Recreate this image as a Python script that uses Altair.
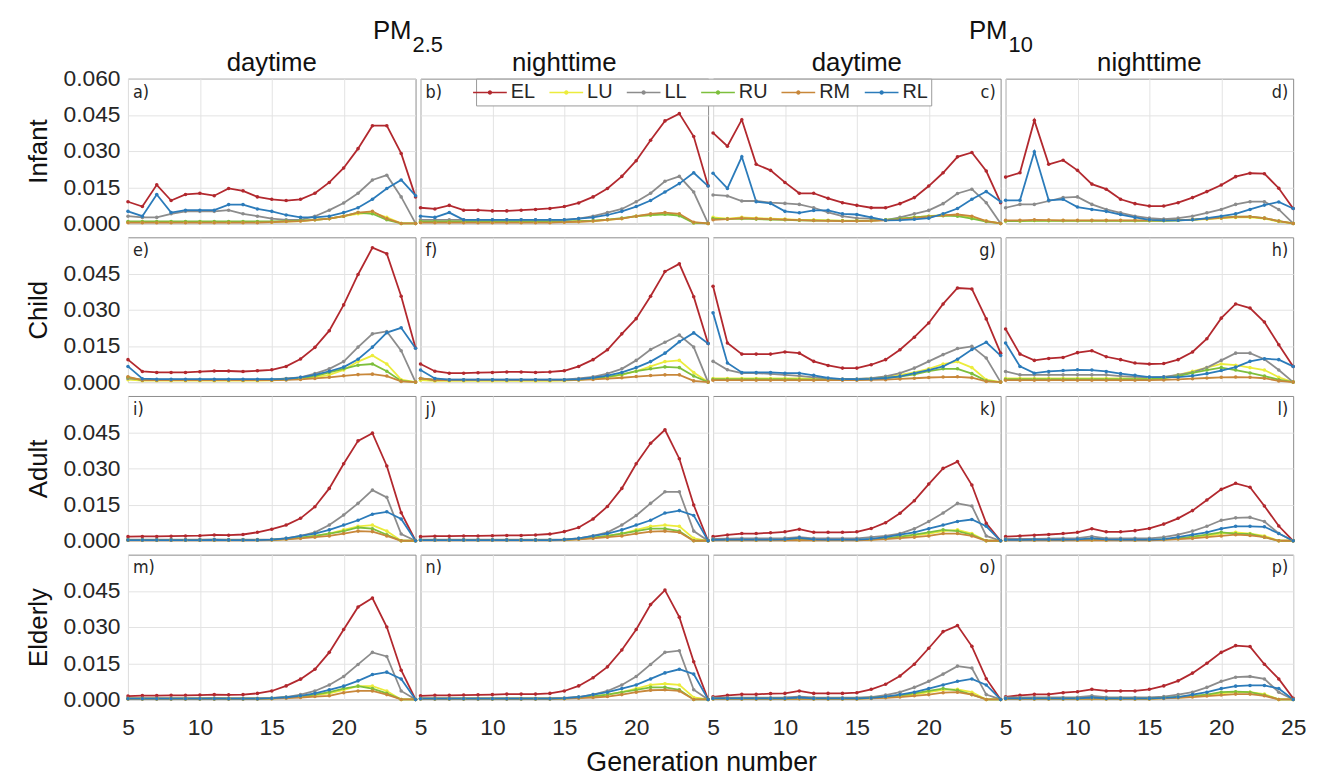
import altair as alt
import pandas as pd

# ---------------- data (values in units of 1e-3) ----------------
GEN = [5, 6, 7, 8, 9, 10, 11, 12, 13, 14, 15, 16, 17, 18, 19, 20, 21, 22, 23, 24, 25]
SERIES = ["EL", "LU", "LL", "RU", "RM", "RL"]
COLORS = ["#b2282e", "#ecec3c", "#8c8c8c", "#7dbf3c", "#c8873a", "#2b7bba"]
ROWS = ["Infant", "Child", "Adult", "Elderly"]
COLS = ["daytime", "nighttime", "daytime", "nighttime"]
LETTERS = ["a)", "b)", "c)", "d)", "e)", "f)", "g)", "h)", "i)", "j)", "k)", "l)", "m)", "n)", "o)", "p)"]
Y_TICKS_TOP = [0, 0.015, 0.030, 0.045, 0.060]
Y_TICKS = [0, 0.015, 0.030, 0.045]
X_TICKS = [5, 10, 15, 20]
X_TICKS_LAST = [5, 10, 15, 20, 25]

A_EL = [9, 7, 16, 9.5, 12, 12.5, 11.5, 14.5, 13.5, 11, 10, 9.5, 10, 12.5, 17, 23, 31, 40.5, 40.5, 29, 11]
A_LU = [0.5, 0.5, 0.5, 0.5, 0.5, 0.5, 0.5, 0.5, 0.5, 0.5, 0.5, 0.8, 1, 1.5, 2, 3, 4, 4.5, 2.5, 0, 0]
A_LL = [3, 2.5, 2.5, 4, 5, 5, 5, 5.5, 4, 3, 2, 1.5, 1.5, 3, 5.5, 8.5, 12.5, 18, 20, 11, 0]
A_RU = [0.8, 0.8, 0.8, 0.8, 0.8, 0.8, 0.8, 0.8, 0.8, 0.8, 0.8, 1, 1.2, 1.5, 2, 3, 4.5, 4, 1.5, 0, 0]
A_RM = [0.3, 0.3, 0.3, 0.3, 0.3, 0.3, 0.3, 0.3, 0.3, 0.3, 0.5, 0.8, 1, 1.5, 2, 3, 4.5, 5, 2, 0, 0]
A_RL = [5, 3, 12, 4.5, 5.5, 5.5, 5.5, 7.8, 7.8, 6, 5, 3.5, 2.5, 2.5, 3, 4.5, 6.5, 10, 14.5, 18, 11.5]

B_EL = [6.5, 6, 7.5, 5.5, 5.5, 5.2, 5.2, 5.5, 5.8, 6.2, 7, 8.5, 11, 14.5, 19.5, 26, 34.5, 42.5, 45.5, 36, 15.6]
B_LU = [0.5, 0.5, 0.5, 0.5, 0.5, 0.5, 0.5, 0.5, 0.5, 0.5, 0.6, 0.8, 1, 1.5, 2, 3, 3.5, 4, 3.5, 0.3, 0]
B_LL = [1.5, 1.5, 1.5, 1.5, 1.5, 1.5, 1.5, 1.5, 1.5, 1.5, 1.5, 2, 3, 4.5, 6, 9, 12.5, 17.5, 19.5, 13, 0]
B_RU = [0.8, 0.8, 0.8, 0.8, 0.8, 0.8, 0.8, 0.8, 0.8, 0.8, 0.8, 1, 1.2, 1.6, 2.2, 3, 3.5, 3.8, 3.2, 0.2, 0]
B_RM = [0.3, 0.3, 0.3, 0.3, 0.3, 0.3, 0.3, 0.3, 0.3, 0.3, 0.5, 0.7, 1, 1.5, 2, 3, 4, 4.5, 4, 0.5, 0]
B_RL = [3, 2.5, 4.5, 1.5, 1.5, 1.5, 1.5, 1.5, 1.5, 1.5, 1.5, 2, 2.5, 3.5, 5, 7, 9.5, 13, 16.5, 21, 15.5]

C_EL = [37.5, 32, 43, 24.5, 22, 17, 12.5, 12.5, 10.4, 8.6, 7.5, 6.5, 6.5, 8.2, 10.7, 15.5, 21, 27.6, 29.4, 21.7, 8.6]
C_LU = [2.5, 2, 2.5, 2.2, 2, 1.8, 1.5, 1.5, 1.3, 1.2, 1.2, 1.2, 1.5, 2, 2.5, 3, 3.5, 3.5, 2.5, 1, 0]
C_LL = [11.8, 11.4, 9.3, 9.3, 8.6, 8.3, 7.9, 6.5, 4.6, 3, 2.2, 2, 1.4, 2.5, 4, 5.4, 8.2, 12.4, 14.2, 8.6, 0]
C_RU = [2, 1.8, 2, 1.8, 1.6, 1.5, 1.3, 1.2, 1.2, 1.1, 1.1, 1.2, 1.5, 2, 2.5, 3, 3.2, 3, 2, 0.8, 0]
C_RM = [1.5, 1.8, 2.2, 2, 1.8, 1.6, 1.4, 1.2, 1.1, 1, 1, 1.1, 1.3, 1.7, 2.2, 2.8, 3.3, 3.7, 3, 1, 0]
C_RL = [20.8, 14.5, 27.6, 9, 8.3, 5, 4.4, 5.4, 5.4, 4, 3.7, 2.5, 1.3, 1.4, 1.7, 2.2, 4, 6.2, 10, 13.2, 9]

D_EL = [19.2, 21, 42.7, 24.5, 26.2, 22, 16.3, 14.2, 10, 8.2, 7.2, 7.2, 8.6, 10.7, 13.2, 15.9, 19.4, 20.8, 20.6, 14.6, 6.2]
D_LU = [1, 1, 1.2, 1.2, 1.2, 1.2, 1.2, 1.2, 1.2, 1.2, 1.2, 1.2, 1.3, 1.5, 1.8, 2.2, 2.5, 2.5, 2, 0.8, 0]
D_LL = [6.5, 7.9, 7.9, 9.3, 10.7, 11, 7.9, 5.8, 4.4, 3, 2.2, 1.8, 2.2, 3, 4.4, 5.8, 7.9, 9, 9, 5.8, 0]
D_RU = [1, 1, 1.2, 1.1, 1.1, 1.1, 1.1, 1.1, 1.1, 1.1, 1.1, 1.1, 1.3, 1.6, 2, 2.4, 2.8, 2.8, 2.2, 1, 0]
D_RM = [1.3, 1.3, 1.5, 1.4, 1.3, 1.3, 1.3, 1.3, 1.3, 1.3, 1.3, 1.3, 1.4, 1.6, 1.9, 2.3, 2.7, 2.8, 2.2, 1, 0]
D_RL = [9.6, 9.6, 29.7, 9.6, 10, 6.8, 5.8, 5, 3.7, 2.5, 1.5, 1.3, 1.3, 1.5, 2.2, 3, 4, 5.8, 7.6, 8.9, 6.2]

E_EL = [9.3, 4.4, 4, 4, 4, 4.3, 4.6, 4.6, 4.4, 4.7, 5.1, 6.5, 9.6, 14.4, 21.3, 32, 44.6, 55.7, 53.2, 35.6, 14.1]
E_LU = [1, 0.6, 0.6, 0.6, 0.6, 0.6, 0.6, 0.6, 0.6, 0.6, 0.7, 1, 1.5, 2, 3, 5, 8.5, 11, 7.5, 1, 0]
E_LL = [1.5, 1, 1, 1, 1, 1, 1, 1, 1, 1, 1, 1.5, 2, 3.5, 5.5, 8.5, 14.5, 20, 21, 13, 0]
E_RU = [2, 0.8, 0.8, 0.8, 0.8, 0.8, 0.8, 0.8, 0.8, 0.8, 0.9, 1.2, 1.7, 2.5, 4, 5.5, 7, 7.5, 4.5, 0.5, 0]
E_RM = [2.2, 0.8, 0.8, 0.8, 0.8, 0.8, 0.8, 0.8, 0.8, 0.8, 0.8, 0.9, 1.1, 1.5, 2, 2.6, 3.1, 3.3, 2.5, 0.3, 0]
E_RL = [6.5, 1.4, 1.2, 1.2, 1.2, 1.2, 1.2, 1.2, 1.2, 1.2, 1.2, 1.3, 2, 3, 4.5, 6.2, 9.5, 14.5, 20.5, 22.5, 14]

F_EL = [7.5, 4.5, 3.7, 3.7, 3.9, 4, 4.2, 4.2, 4, 4.2, 4.7, 6.5, 9.3, 13.4, 20, 26.3, 35.6, 45.8, 49, 35.4, 16]
F_LU = [0.8, 0.5, 0.5, 0.5, 0.5, 0.5, 0.5, 0.5, 0.5, 0.5, 0.6, 0.9, 1.4, 2, 3, 4.5, 6.5, 8.5, 9, 4, 0]
F_LL = [1.5, 1, 1, 1, 1, 1, 1, 1, 1, 1, 1, 1.5, 2.2, 3.5, 5.5, 9, 13.5, 16.5, 19.5, 14.5, 0]
F_RU = [1.5, 0.8, 0.8, 0.8, 0.8, 0.8, 0.8, 0.8, 0.8, 0.8, 0.8, 1, 1.5, 2.2, 3.2, 4.5, 5.5, 6.3, 6, 2.5, 0]
F_RM = [1.5, 0.8, 0.8, 0.8, 0.8, 0.8, 0.8, 0.8, 0.8, 0.8, 0.8, 0.9, 1.1, 1.4, 1.8, 2.3, 2.7, 3, 3, 0.5, 0]
F_RL = [5, 1.5, 1, 1, 1, 1, 1, 1, 1, 1, 1, 1.2, 1.8, 2.7, 4, 6, 8.5, 12, 16.7, 20.4, 16]

G_EL = [39.7, 16.2, 11.6, 11.6, 11.6, 12.5, 12, 8.6, 6.9, 5.8, 5.8, 7.2, 9.3, 13.4, 18.6, 24.5, 32.4, 39, 38.6, 26.2, 12]
G_LU = [1.5, 1.5, 1.5, 1.5, 1.5, 1.5, 1.5, 1.4, 1.3, 1.2, 1.2, 1.5, 2.2, 3, 4, 5.5, 7.5, 8.5, 6, 1, 0]
G_LL = [8.6, 5.1, 3.7, 3.7, 3.4, 3, 2.6, 2, 1.4, 1.3, 1.3, 1.6, 2.4, 3.7, 5.8, 8.6, 11.4, 13.9, 14.8, 10, 0]
G_RU = [1.2, 1.2, 1.2, 1.2, 1.2, 1.2, 1.1, 1, 1, 1, 1, 1.2, 1.7, 2.3, 3.2, 4.5, 5.5, 5.5, 3.5, 0.5, 0]
G_RM = [0.8, 0.8, 0.8, 0.8, 0.8, 0.8, 0.8, 0.8, 0.8, 0.8, 0.8, 0.9, 1, 1.3, 1.6, 1.9, 2.1, 2.2, 1.8, 0.3, 0]
G_RL = [28.7, 7.9, 4, 4, 4, 3.7, 3.7, 2.8, 1.7, 1.2, 1.2, 1.3, 1.7, 2.4, 3.7, 5, 6.5, 9.5, 13.5, 16.5, 11]

H_EL = [22, 11.6, 9, 9.8, 10.2, 12.2, 13, 10.5, 9.3, 7.9, 7.5, 7.7, 9.3, 12.5, 18, 26.5, 32.4, 30.7, 24.9, 15.5, 6.5]
H_LU = [1.5, 1.5, 1.5, 1.5, 1.5, 1.5, 1.5, 1.5, 1.5, 1.5, 1.5, 2, 3, 4.5, 6, 7.5, 7, 6, 5, 2, 0]
H_LL = [4.4, 3, 3, 3, 3, 3, 3, 3, 2.5, 2.2, 2, 2.2, 3, 4, 6, 9, 12, 12, 9.5, 5, 0]
H_RU = [1.2, 1.2, 1.2, 1.2, 1.2, 1.2, 1.2, 1.2, 1.2, 1.2, 1.2, 1.6, 2.5, 3.8, 5, 6, 5, 3.8, 2.5, 1, 0]
H_RM = [0.8, 0.8, 0.8, 0.8, 0.8, 0.8, 0.8, 0.8, 0.8, 0.8, 0.8, 0.9, 1.1, 1.4, 1.7, 2, 2.1, 2, 1.6, 0.5, 0]
H_RL = [16.2, 6.5, 3.7, 4.4, 4.8, 5.1, 5, 4.4, 3.5, 2.8, 2.1, 2.1, 2.1, 2.6, 3.5, 4.8, 6.2, 8.6, 9.7, 9.3, 6.5]

I_EL = [1.7, 1.8, 1.8, 1.9, 2, 2.1, 2.4, 2.3, 2.6, 3.5, 4.8, 6.5, 9.3, 14.1, 21.7, 31.9, 41.4, 44.6, 31, 11.6, 0]
I_LU = [0.3, 0.3, 0.3, 0.3, 0.3, 0.3, 0.3, 0.3, 0.3, 0.3, 0.4, 0.7, 1.2, 2, 3, 4.5, 6, 6.5, 4, 0, 0]
I_LL = [0.5, 0.5, 0.5, 0.5, 0.5, 0.5, 0.6, 0.5, 0.5, 0.5, 0.6, 1, 2, 3.5, 6.5, 10.7, 15.5, 21, 18, 2.8, 0]
I_RU = [0.3, 0.3, 0.3, 0.3, 0.3, 0.3, 0.3, 0.3, 0.3, 0.3, 0.4, 0.8, 1.3, 2, 3, 4, 5.5, 5, 2.5, 0, 0]
I_RM = [0.2, 0.2, 0.2, 0.2, 0.2, 0.2, 0.2, 0.2, 0.2, 0.2, 0.3, 0.6, 1, 1.5, 2, 3, 4, 3.8, 2, 0, 0]
I_RL = [0.3, 0.3, 0.3, 0.3, 0.3, 0.3, 0.4, 0.3, 0.3, 0.3, 0.5, 1, 2, 3, 4.5, 6.5, 8.5, 11, 12, 9, 0]

J_EL = [1.7, 1.9, 1.9, 2, 2, 2.1, 2.2, 2.2, 2.4, 2.8, 3.8, 5.5, 9, 14.2, 21.7, 31.9, 40.4, 46, 34, 14.8, 0]
J_LU = [0.3, 0.3, 0.3, 0.3, 0.3, 0.3, 0.3, 0.3, 0.3, 0.3, 0.4, 0.7, 1.2, 2, 3, 4.5, 6, 6.5, 6, 1, 0]
J_LL = [0.5, 0.5, 0.5, 0.5, 0.5, 0.5, 0.5, 0.5, 0.5, 0.5, 0.6, 1, 2, 3.5, 6.5, 10.5, 15.5, 20.3, 20.3, 4, 0]
J_RU = [0.3, 0.3, 0.3, 0.3, 0.3, 0.3, 0.3, 0.3, 0.3, 0.3, 0.4, 0.8, 1.3, 2, 3, 4, 5, 5, 4, 0, 0]
J_RM = [0.2, 0.2, 0.2, 0.2, 0.2, 0.2, 0.2, 0.2, 0.2, 0.2, 0.3, 0.6, 1, 1.5, 2, 3, 3.8, 4, 3.5, 0, 0]
J_RL = [0.3, 0.3, 0.3, 0.3, 0.3, 0.3, 0.3, 0.3, 0.3, 0.3, 0.5, 1, 2, 3, 4.5, 6.5, 8.5, 11.5, 12.5, 10.5, 0]

K_EL = [1.7, 2.4, 3, 3, 3.3, 3.7, 4.8, 3.5, 3.5, 3.5, 3.7, 5.1, 7.5, 11.4, 16.6, 23.5, 30, 32.8, 23.1, 7.2, 0]
K_LU = [0.3, 0.3, 0.3, 0.3, 0.3, 0.3, 0.4, 0.3, 0.3, 0.3, 0.3, 0.5, 0.9, 1.5, 2.2, 3, 4, 4.5, 3, 0, 0]
K_LL = [0.8, 0.9, 1, 1, 1, 1.1, 1.5, 1, 1, 1, 1, 1.5, 2, 3, 5, 8, 11.5, 15.5, 14.4, 2, 0]
K_RU = [0.3, 0.3, 0.3, 0.3, 0.3, 0.3, 0.4, 0.3, 0.3, 0.3, 0.3, 0.6, 1, 1.7, 2.5, 3.5, 4.5, 4, 2.5, 0, 0]
K_RM = [0.2, 0.2, 0.2, 0.2, 0.2, 0.2, 0.3, 0.2, 0.2, 0.2, 0.2, 0.4, 0.7, 1.1, 1.5, 2, 3, 3, 2, 0, 0]
K_RL = [0.4, 0.5, 0.5, 0.5, 0.5, 0.6, 1.2, 0.6, 0.5, 0.5, 0.5, 0.8, 1.5, 2.5, 3.5, 5, 6.5, 8, 8.8, 6, 0]

L_EL = [1.7, 2, 2.3, 2.6, 3, 3.5, 5, 3.7, 3.7, 4.2, 5.1, 6.9, 9.3, 12.5, 16.9, 21.3, 23.8, 22.2, 14.4, 6.1, 0]
L_LU = [0.3, 0.3, 0.3, 0.3, 0.3, 0.3, 0.4, 0.3, 0.3, 0.3, 0.3, 0.5, 0.8, 1.3, 2, 3, 3.5, 3, 2, 0, 0]
L_LL = [0.8, 0.8, 0.8, 0.9, 1, 1.1, 1.8, 1, 1, 1, 1, 1.5, 2.5, 4, 6, 8.5, 9.5, 9.7, 8, 3, 0]
L_RU = [0.3, 0.3, 0.3, 0.3, 0.3, 0.3, 0.4, 0.3, 0.3, 0.3, 0.3, 0.6, 1, 1.7, 2.5, 3.5, 3, 2.8, 1.5, 0, 0]
L_RM = [0.2, 0.2, 0.2, 0.2, 0.2, 0.2, 0.3, 0.2, 0.2, 0.2, 0.2, 0.4, 0.7, 1, 1.5, 2, 2.5, 2.2, 1.5, 0, 0]
L_RL = [0.4, 0.4, 0.5, 0.5, 0.5, 0.6, 1, 0.6, 0.5, 0.5, 0.5, 0.7, 1.5, 2.5, 3.5, 5, 6, 6, 5.8, 3, 0]

M_EL = [1.4, 1.6, 1.6, 1.7, 1.7, 1.8, 2, 1.9, 2, 2.5, 3.5, 5.6, 8.4, 12.5, 19.5, 29, 38.3, 42, 30, 12.1, 0]
M_LU = [0.3, 0.3, 0.3, 0.3, 0.3, 0.3, 0.3, 0.3, 0.3, 0.3, 0.4, 0.7, 1.2, 1.8, 2.5, 4, 5.5, 5.5, 3.5, 0, 0]
M_LL = [0.5, 0.5, 0.5, 0.5, 0.5, 0.5, 0.6, 0.5, 0.5, 0.5, 0.6, 1, 2, 3.5, 6, 9.5, 14.5, 19.5, 17.8, 3.5, 0]
M_RU = [0.3, 0.3, 0.3, 0.3, 0.3, 0.3, 0.3, 0.3, 0.3, 0.3, 0.4, 0.8, 1.3, 2, 3, 4.5, 5.5, 4.5, 2.5, 0, 0]
M_RM = [0.2, 0.2, 0.2, 0.2, 0.2, 0.2, 0.2, 0.2, 0.2, 0.2, 0.3, 0.5, 0.8, 1.2, 1.5, 2.8, 3.5, 3.5, 2, 0, 0]
M_RL = [0.3, 0.3, 0.3, 0.3, 0.3, 0.3, 0.3, 0.3, 0.3, 0.3, 0.5, 0.9, 1.5, 2.5, 4, 5.5, 7.7, 10.3, 11.3, 8.5, 0]

N_EL = [1.5, 1.7, 1.7, 1.8, 1.9, 2, 2.2, 2.2, 2.2, 2.5, 3.5, 5.6, 9, 13.5, 20.5, 29, 39.3, 45.3, 34.1, 15.6, 0]
N_LU = [0.3, 0.3, 0.3, 0.3, 0.3, 0.3, 0.3, 0.3, 0.3, 0.3, 0.4, 0.7, 1.2, 2, 3, 4.5, 6, 6.5, 6, 0.8, 0]
N_LL = [0.5, 0.5, 0.5, 0.5, 0.5, 0.5, 0.5, 0.5, 0.5, 0.5, 0.6, 1, 2, 3.5, 6, 9.5, 14.5, 19.5, 20.2, 4, 0]
N_RU = [0.3, 0.3, 0.3, 0.3, 0.3, 0.3, 0.3, 0.3, 0.3, 0.3, 0.4, 0.8, 1.3, 2, 3, 4, 5, 5, 4, 0, 0]
N_RM = [0.2, 0.2, 0.2, 0.2, 0.2, 0.2, 0.2, 0.2, 0.2, 0.2, 0.3, 0.5, 0.8, 1.2, 2, 3, 3.8, 4, 3.5, 0, 0]
N_RL = [0.3, 0.3, 0.3, 0.3, 0.3, 0.3, 0.3, 0.3, 0.3, 0.3, 0.5, 1, 2, 3, 4.5, 6, 8.5, 11, 12.5, 10.5, 0]

O_EL = [1.1, 1.7, 2.1, 2.1, 2.4, 2.5, 3.5, 2.5, 2.5, 2.5, 2.8, 4.2, 6.3, 9.7, 14.6, 21.2, 28.1, 30.6, 22, 8.6, 0]
O_LU = [0.3, 0.3, 0.3, 0.3, 0.3, 0.3, 0.4, 0.3, 0.3, 0.3, 0.3, 0.5, 0.8, 1.3, 2, 3, 4, 4.2, 3, 0, 0]
O_LL = [0.7, 0.7, 0.7, 0.7, 0.7, 0.8, 1.2, 0.8, 0.7, 0.7, 0.7, 1, 1.8, 3, 5, 7.5, 10.5, 13.8, 13, 2, 0]
O_RU = [0.3, 0.3, 0.3, 0.3, 0.3, 0.3, 0.4, 0.3, 0.3, 0.3, 0.3, 0.6, 1, 1.7, 2.5, 3.5, 4.5, 3.8, 2, 0, 0]
O_RM = [0.2, 0.2, 0.2, 0.2, 0.2, 0.2, 0.3, 0.2, 0.2, 0.2, 0.2, 0.4, 0.7, 1, 1.5, 2, 2.8, 3, 2, 0, 0]
O_RL = [0.4, 0.4, 0.4, 0.4, 0.4, 0.4, 0.8, 0.4, 0.4, 0.4, 0.4, 0.6, 1.2, 2, 3, 4.5, 6, 7.5, 8.5, 6, 0]

P_EL = [1.1, 1.7, 2.1, 2.1, 2.8, 3.2, 4.2, 3.5, 3.5, 3.5, 4.2, 5.6, 7.7, 10.9, 15, 19.5, 22.3, 21.9, 14.6, 8.5, 0.5]
P_LU = [0.3, 0.3, 0.3, 0.3, 0.3, 0.3, 0.4, 0.3, 0.3, 0.3, 0.3, 0.5, 0.8, 1.2, 1.8, 2.5, 3, 3, 2.2, 0, 0]
P_LL = [0.8, 0.8, 0.8, 0.8, 0.8, 0.9, 1.5, 0.9, 0.8, 0.8, 0.8, 1.2, 2, 3, 5, 7.5, 9.2, 9.5, 8.5, 3, 0]
P_RU = [0.3, 0.3, 0.3, 0.3, 0.3, 0.3, 0.4, 0.3, 0.3, 0.3, 0.3, 0.6, 1, 1.5, 2, 3, 3.2, 3, 1.8, 0, 0]
P_RM = [0.2, 0.2, 0.2, 0.2, 0.2, 0.2, 0.3, 0.2, 0.2, 0.2, 0.2, 0.4, 0.7, 1, 1.4, 1.8, 2.2, 2.2, 1.5, 0, 0]
P_RL = [0.4, 0.4, 0.4, 0.4, 0.4, 0.4, 0.8, 0.4, 0.4, 0.4, 0.4, 0.6, 1, 2, 3, 4.5, 5.5, 5.8, 5.8, 4.5, 0]

PANEL_VALUES = [
    [A_EL, A_LU, A_LL, A_RU, A_RM, A_RL],
    [B_EL, B_LU, B_LL, B_RU, B_RM, B_RL],
    [C_EL, C_LU, C_LL, C_RU, C_RM, C_RL],
    [D_EL, D_LU, D_LL, D_RU, D_RM, D_RL],
    [E_EL, E_LU, E_LL, E_RU, E_RM, E_RL],
    [F_EL, F_LU, F_LL, F_RU, F_RM, F_RL],
    [G_EL, G_LU, G_LL, G_RU, G_RM, G_RL],
    [H_EL, H_LU, H_LL, H_RU, H_RM, H_RL],
    [I_EL, I_LU, I_LL, I_RU, I_RM, I_RL],
    [J_EL, J_LU, J_LL, J_RU, J_RM, J_RL],
    [K_EL, K_LU, K_LL, K_RU, K_RM, K_RL],
    [L_EL, L_LU, L_LL, L_RU, L_RM, L_RL],
    [M_EL, M_LU, M_LL, M_RU, M_RM, M_RL],
    [N_EL, N_LU, N_LL, N_RU, N_RM, N_RL],
    [O_EL, O_LU, O_LL, O_RU, O_RM, O_RL],
    [P_EL, P_LU, P_LL, P_RU, P_RM, P_RL],
]

# ---------------- styling ----------------
FONT = "Liberation Sans, Arial, Helvetica, sans-serif"
NARROW = "Liberation Sans Narrow, DejaVu Sans Condensed, Liberation Sans, sans-serif"
TXT = "#262626"
W, H = 290, 146
# a ~34px line with a small dot in the middle, drawn in a 20px symbol box
LEGEND_SYMBOL = "M-1.7,0H1.7M0.15,0A0.15,0.15,0,1,1,-0.15,0A0.15,0.15,0,1,1,0.15,0Z"

color_scale = alt.Scale(domain=SERIES, range=COLORS)
legend = alt.Legend(
    orient="none", legendX=351, legendY=0, direction="horizontal", title=None,
    symbolType=LEGEND_SYMBOL, symbolSize=400, symbolStrokeWidth=1.5,
    labelFontSize=20, labelFont=FONT, labelColor=TXT, labelOffset=10,
    columnPadding=11, padding=3, strokeColor="#9a9a9a", fillColor="white",
)


def panel(i):
    r, c = divmod(i, 4)
    rows = []
    for s, arr in zip(SERIES, PANEL_VALUES[i]):
        for g, v in zip(GEN, arr):
            rows.append({"gen": g, "value": v / 1000.0, "series": s})
    df = pd.DataFrame(rows)

    if c == 0:
        yaxis = alt.Axis(values=Y_TICKS_TOP if r == 0 else Y_TICKS, format=".3f", title=ROWS[r],
                         labelFontSize=23, titleFontSize=26, labelPadding=8, titlePadding=12,
                         labelFlush=False, grid=True)
    else:
        yaxis = alt.Axis(values=Y_TICKS, labels=False, title=None, grid=True)

    if r == 3:
        xaxis = alt.Axis(values=X_TICKS_LAST if c == 3 else X_TICKS, format="d", labelFontSize=23,
                         labelPadding=17, labelFlush=False, grid=True,
                         title="Generation number" if c == 1 else None,
                         titleFontSize=27, titleX=283, titleY=51, titleAlign="center",
                         titleBaseline="top")
    else:
        xaxis = alt.Axis(values=X_TICKS, labels=False, title=None, grid=True)

    base = alt.Chart(df).encode(
        x=alt.X("gen:Q", scale=alt.Scale(domain=[5, 25], nice=False, zero=False), axis=xaxis),
        y=alt.Y("value:Q", scale=alt.Scale(domain=[0, 0.06], nice=False), axis=yaxis),
    )
    lines = base.mark_line(strokeWidth=1.8).encode(
        color=alt.Color("series:N", scale=color_scale, legend=legend if i == 0 else None)
    )
    pts = base.mark_circle(size=13, opacity=1).encode(
        color=alt.Color("series:N", scale=color_scale, legend=None)
    )
    lbl_df = pd.DataFrame({"t": [LETTERS[i]]})
    if c < 2:
        lbl = alt.Chart(lbl_df).mark_text(align="left", baseline="middle", fontSize=18, font=NARROW,
                                          color=TXT).encode(x=alt.value(5), y=alt.value(14), text="t:N")
    else:
        lbl = alt.Chart(lbl_df).mark_text(align="right", baseline="middle", fontSize=18, font=NARROW,
                                          color=TXT).encode(x=alt.value(W - 5), y=alt.value(14), text="t:N")
    layers = [lines, pts, lbl]
    if r == 0 and c in (0, 2):
        main = "PM"
        sub = "2.5" if c == 0 else "10"
        xr = 286 if c == 0 else 297
        layers.append(alt.Chart(pd.DataFrame({"t": [main]})).mark_text(
            align="right", baseline="alphabetic", fontSize=26, font=FONT, color="#111111"
        ).encode(x=alt.value(xr), y=alt.value(-40), text="t:N"))
        layers.append(alt.Chart(pd.DataFrame({"t": [sub]})).mark_text(
            align="left", baseline="alphabetic", fontSize=22, font=FONT, color="#111111"
        ).encode(x=alt.value(xr + 1), y=alt.value(-27), text="t:N"))
    ch = alt.layer(*layers).properties(width=W, height=H)
    if r == 0:
        ch = ch.properties(title=alt.TitleParams(COLS[c], fontSize=26, fontWeight="normal", font=FONT,
                                                 color="#111111", offset=3,
                                                 dy=61 if c in (0, 2) else 0))
    return ch


chart = alt.concat(
    *[panel(i) for i in range(16)], columns=4, spacing={"row": 14, "column": 5}, bounds="flush"
).properties(
    padding={"left": 16, "top": 6, "right": 5, "bottom": 0}
).configure_view(
    stroke="#8c8c8c", strokeWidth=1
).configure_axis(
    gridColor="#e3e3e3", gridWidth=1, domain=False, ticks=False,
    labelColor=TXT, titleColor="#111111", labelFont=FONT, titleFont=FONT, titleFontWeight="normal"
)

chart.save("out.html", embed_options={"renderer": "svg", "actions": False})
